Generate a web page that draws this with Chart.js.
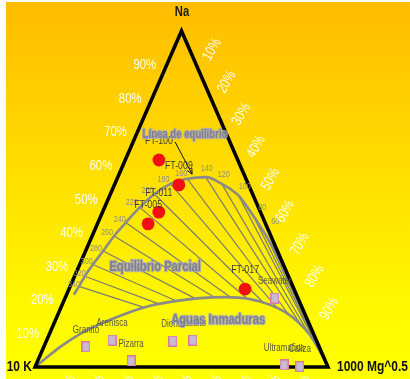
<!DOCTYPE html>
<html>
<head>
<meta charset="utf-8">
<script src="https://cdn.jsdelivr.net/npm/chart.js@4/dist/chart.umd.min.js"></script>
<style>
  html, body { margin: 0; padding: 0; background: #fff; }
  canvas { display: block; }
</style>
</head>
<body>
<canvas id="chart" width="410" height="379"></canvas>
<script>
// Na-K-Mg ternary diagram (Giggenbach). All positions are ternary
// percentages given as Na % and Mg %; K % is the remainder.

const vertexNames = ['Na', '10 K', '1000 Mg^0.5'];
const naTicks = [10, 20, 30, 40, 50, 60, 70, 80, 90];
const mgTicks = [10, 20, 30, 40, 50, 60, 70, 80, 90];
const kTicks  = [90, 80, 70, 60, 50, 40, 30, 20, 10];

// Full equilibrium line; temperatures (°C) mark where isotherms leave it
const eqTemps = [null, 340, 320, 300, 280, 260, 240, 220, 200, 180, 160, 140, 120, 100, 80, 60, null, null, null, null, null];
const eqNa = [21.5, 24, 27, 30.5, 34.5, 39, 43, 47.5, 51.5, 54.5, 56, 56.5, 54.5, 51, 45, 38.5, 30.5, 22.5, 15.5, 8, 0];
const eqMg = [2.5, 3, 3.5, 4.5, 6, 7.5, 9.5, 12, 15, 19, 24, 30, 36.5, 44, 52, 60, 69, 77, 84.3, 91.8, 100];

// Boundary between partial equilibrium and immature waters
const immNa = [0, 2.4, 6.0, 9.8, 12.8, 15.8, 18.2, 19.6, 20.5, 20.8, 20.2, 18.5, 16.4, 13.4, 9.5, 5.6, 2.4, 0];
const immMg = [0, 2.2, 5.6, 10.4, 15.8, 22.8, 30.2, 38.0, 46.0, 54.4, 63.3, 71.0, 77.1, 83.1, 89.1, 93.8, 97.4, 100];

// Water samples
const sampleNames = ['FT-100', 'FT-009', 'FT-011', 'FT-005', 'FT-017'];
const sampleNa = [61.6, 54.2, 46.1, 42.6, 23.2];
const sampleMg = [11.5, 22.0, 19.2, 17.3, 60.1];

// Reference rocks and seawater
const rockNames = ['Granito', 'Arenisca', 'Pizarra', 'Diorita', 'Basalto', 'Seawater', 'Ultramafica', 'Caliza'];
const rockNa = [6.0, 8.0, 1.8, 7.7, 8.0, 20.5, 0.6, 0.1];
const rockMg = [14.4, 22.3, 31.9, 43.2, 49.9, 71.6, 84.7, 90.3];

// Field titles and the pointer to the equilibrium line
const titles = [
  { text: 'Línea de equilibrio', na: 69.0, mg: 16.7, size: 12 },
  { text: 'Equilibrio Parcial', na: 29.8, mg: 26.1, size: 14 },
  { text: 'Aguas Inmaduras', na: 14.0, mg: 55.5, size: 14 }
];
const pointerFrom = { na: 67.0, mg: 14.3 };
const pointerTo = { na: 57.4, mg: 24.9 };

// ---------------------------------------------------------------------------

const FONT = '"Liberation Sans", Arial, Helvetica, sans-serif';

function toXY(na, mg) { return { x: mg + na / 2, y: na }; }

const cornerK = toXY(0, 0), cornerMg = toXY(0, 100), cornerNa = toXY(100, 0);
const eqPts = eqNa.map((n, i) => toXY(n, eqMg[i]));
const immPts = immNa.map((n, i) => toXY(n, immMg[i]));

// An Na/K isotherm runs from the equilibrium line toward the Mg corner
// and stops where it meets the immature-water boundary.
function isothermEnd(s) {
  const dx = cornerMg.x - s.x, dy = cornerMg.y - s.y;
  let best = null;
  for (let i = 0; i < immPts.length - 1; i++) {
    const a = immPts[i], b = immPts[i + 1];
    const ex = b.x - a.x, ey = b.y - a.y;
    const den = dx * ey - dy * ex;
    if (Math.abs(den) < 1e-9) continue;
    const t = ((a.x - s.x) * ey - (a.y - s.y) * ex) / den;
    const u = ((a.x - s.x) * dy - (a.y - s.y) * dx) / den;
    if (t > 0 && t < 0.999 && u >= 0 && u <= 1 && (best === null || t < best)) best = t;
  }
  if (best === null) best = 1;
  return { x: s.x + best * dx, y: s.y + best * dy };
}

const isothermSets = [];
eqTemps.forEach((t, i) => {
  if (t === null) return;
  isothermSets.push({
    data: [eqPts[i], isothermEnd(eqPts[i])],
    showLine: true, pointRadius: 0, borderColor: 'rgba(118,118,118,0.95)',
    borderWidth: 1.2, order: 6
  });
});

// Small lavender square with a pink rim for the rock markers
function rockSymbol() {
  const c = document.createElement('canvas');
  c.width = 9; c.height = 11;
  const g = c.getContext('2d');
  g.fillStyle = '#e0789c';
  g.fillRect(0, 0, 9, 11);
  g.fillStyle = '#c4bed3';
  g.fillRect(1.2, 1.2, 6.6, 8.6);
  return c;
}

function drawText(ctx, s, x, y, o) {
  ctx.save();
  ctx.font = o.font;
  ctx.textAlign = o.align || 'center';
  ctx.textBaseline = o.base || 'middle';
  ctx.translate(x, y);
  if (o.rot) ctx.rotate(o.rot);
  ctx.scale(o.sx || 0.8, 1);
  if (o.stroke) {
    ctx.lineJoin = 'round';
    ctx.lineWidth = o.strokeWidth || 3;
    ctx.strokeStyle = o.stroke;
    ctx.strokeText(s, 0, 0);
  }
  ctx.fillStyle = o.color;
  ctx.fillText(s, 0, 0);
  ctx.restore();
}

// label offsets (px) of the temperature marks, from 340 °C down to 60 °C
const tempLabelShift = [[-5, -2], [-5, -3], [-6, -3], [-7, -3], [-7, -3], [-6, -3], [-8, -5], [-7, -3],
                        [-7, -4], [-6, -5], [1, -9], [2, -9], [6, -9], [9, -8], [8, -16]];

const decor = {
  id: 'decor',
  beforeDraw(chart) {
    const { ctx, width, height } = chart;
    ctx.save();
    ctx.fillStyle = '#ffffff';
    ctx.fillRect(0, 0, width, height);
    const g = ctx.createLinearGradient(0, 2, 0, height);
    g.addColorStop(0, 'rgb(255,188,0)');
    g.addColorStop(0.5, 'rgb(255,226,0)');
    g.addColorStop(0.8, 'rgb(255,248,0)');
    g.addColorStop(1, 'rgb(255,255,0)');
    ctx.fillStyle = g;
    ctx.fillRect(6, 2, width - 6, height - 2);
    ctx.restore();
  },
  afterDatasetsDraw(chart) {
    const { ctx } = chart;
    const sx = chart.scales.x, sy = chart.scales.y;
    const P = (na, mg) => {
      const p = toXY(na, mg);
      return { x: sx.getPixelForValue(p.x), y: sy.getPixelForValue(p.y) };
    };

    // temperature marks along the equilibrium line
    let k = 0;
    eqTemps.forEach((t, i) => {
      if (t === null) return;
      const p = P(eqNa[i], eqMg[i]);
      const d = tempLabelShift[k++];
      drawText(ctx, String(t), p.x + d[0], p.y + d[1], { font: `9px ${FONT}`, color: '#8e8e86' });
    });

    // percentage scales
    const white = 'rgba(255,255,255,0.93)';
    naTicks.forEach(v => {
      const p = P(v, 0);
      drawText(ctx, v + '%', p.x - 22, p.y + 0.5, { font: `15px ${FONT}`, color: white, sx: 0.76 });
    });
    mgTicks.forEach((v, i) => {
      const p = P(100 - v, v);
      drawText(ctx, v + '%', p.x + 16, p.y - 15 - i * 1.2, { font: `15px ${FONT}`, color: white, sx: 0.76, rot: -Math.PI / 3 });
    });
    kTicks.forEach(v => {
      const p = P(0, 100 - v);
      drawText(ctx, v + '%', p.x + 2, p.y + 19, { font: `15px ${FONT}`, color: white, sx: 0.76, rot: -Math.PI / 3 });
    });

    // corner names
    const pNa = P(100, 0), pK = P(0, 0), pMg = P(0, 100);
    drawText(ctx, vertexNames[0], pNa.x + 0.5, pNa.y - 19, { font: `bold 14px ${FONT}`, color: '#1a1a1a' });
    drawText(ctx, vertexNames[1], pK.x - 3, pK.y, { font: `bold 15px ${FONT}`, color: '#111', align: 'right' });
    drawText(ctx, vertexNames[2], pMg.x + 9, pMg.y, { font: `bold 15px ${FONT}`, color: '#111', align: 'left' });

    // rock names
    rockNames.forEach((n, i) => {
      const p = P(rockNa[i], rockMg[i]);
      drawText(ctx, n, p.x, p.y - 17, { font: `10px ${FONT}`, color: '#5a5a46' });
    });

    // sample names
    sampleNames.forEach((n, i) => {
      const p = P(sampleNa[i], sampleMg[i]);
      drawText(ctx, n, p.x, p.y - 19, { font: `11px ${FONT}`, color: '#3a3a36' });
    });

    // field titles
    titles.forEach(t => {
      const p = P(t.na, t.mg);
      drawText(ctx, t.text, p.x, p.y, {
        font: `bold ${t.size}px ${FONT}`, color: '#7e7e92',
        stroke: 'rgba(165,165,195,0.8)', strokeWidth: 2.6
      });
    });

    // pointer arrow to the equilibrium line
    const a = P(pointerFrom.na, pointerFrom.mg), b = P(pointerTo.na, pointerTo.mg);
    const ang = Math.atan2(b.y - a.y, b.x - a.x);
    ctx.save();
    ctx.strokeStyle = '#111';
    ctx.lineWidth = 1;
    ctx.beginPath();
    ctx.moveTo(a.x, a.y);
    ctx.lineTo(b.x, b.y);
    ctx.moveTo(b.x - 6 * Math.cos(ang - 0.45), b.y - 6 * Math.sin(ang - 0.45));
    ctx.lineTo(b.x, b.y);
    ctx.lineTo(b.x - 6 * Math.cos(ang + 0.45), b.y - 6 * Math.sin(ang + 0.45));
    ctx.stroke();
    ctx.restore();
  }
};

new Chart(document.getElementById('chart'), {
  type: 'scatter',
  data: {
    datasets: [
      {
        label: 'Muestras',
        data: sampleNa.map((n, i) => toXY(n, sampleMg[i])),
        pointRadius: 6.4, pointBackgroundColor: '#f01010', pointBorderWidth: 0,
        order: 0
      },
      {
        label: 'Rocas',
        data: rockNa.map((n, i) => toXY(n, rockMg[i])),
        pointStyle: rockSymbol(), pointRadius: 5,
        order: 1
      },
      {
        label: 'Triángulo',
        data: [cornerK, cornerMg, cornerNa, cornerK, cornerMg],
        showLine: true, pointRadius: 0, borderColor: '#000', borderWidth: 3.5,
        borderJoinStyle: 'miter', order: 2
      },
      {
        label: 'Equilibrio total',
        data: eqPts,
        showLine: true, pointRadius: 0, borderColor: 'rgb(138,138,138)', borderWidth: 2.6,
        cubicInterpolationMode: 'monotone', order: 3
      },
      {
        label: 'Aguas inmaduras',
        data: immPts,
        showLine: true, pointRadius: 0, borderColor: 'rgb(138,138,138)', borderWidth: 2.6,
        cubicInterpolationMode: 'monotone', order: 4
      },
      ...isothermSets
    ]
  },
  options: {
    responsive: false,
    animation: false,
    devicePixelRatio: 1,
    clip: false,
    layout: { padding: { left: 35, right: 82, top: 31, bottom: 12 } },
    scales: {
      x: { type: 'linear', min: 0, max: 100, display: false },
      y: { type: 'linear', min: 0, max: 100, display: false }
    },
    plugins: { legend: { display: false }, tooltip: { enabled: false } },
    events: []
  },
  plugins: [decor]
});
</script>
</body>
</html>
